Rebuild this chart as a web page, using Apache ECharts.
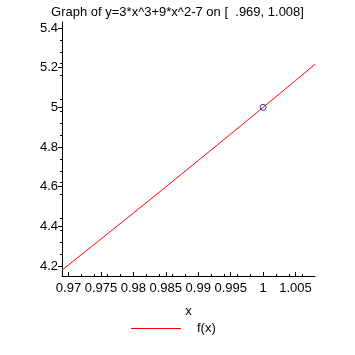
<!DOCTYPE html>
<html>
<head>
<meta charset="utf-8">
<script src="https://cdn.jsdelivr.net/npm/echarts@6/dist/echarts.min.js"></script>
<style>
  html, body { margin: 0; padding: 0; background: #fff; }
  #chart { width: 355px; height: 355px; }
</style>
</head>
<body>
<div id="chart"></div>
<script>
// values
var xs = [0.969, 0.975, 0.98, 0.985, 0.99, 0.995, 1, 1.005, 1.008];
var ys = [4.18, 4.336, 4.467, 4.599, 4.732, 4.865, 5.0, 5.135, 5.217];
var marked = [[1, 5]];
var xTicks = [0.97, 0.975, 0.98, 0.985, 0.99, 0.995, 1, 1.005];
var yTicks = [4.2, 4.4, 4.6, 4.8, 5, 5.2, 5.4];

var font = "'Liberation Sans', Arial, sans-serif";
var chart = echarts.init(document.getElementById("chart"));

var line = xs.map(function (x, i) { return [x, ys[i]]; });

chart.setOption({
  animation: false,
  title: {
    text: "Graph of y=3*x^3+9*x^2-7 on [  .969, 1.008]",
    left: "center",
    top: 1,
    textStyle: { fontFamily: font, fontSize: 13, fontWeight: "normal", color: "#000" }
  },
  grid: { left: 62, right: 40, top: 22, bottom: 79 },
  legend: {
    data: [{ name: "f(x)", icon: "rect" }],
    bottom: 20,
    left: 131,
    padding: 0,
    itemWidth: 50,
    itemHeight: 1,
    textStyle: { fontFamily: font, fontSize: 13, color: "#000", padding: [3, 0, 0, 11] }
  },
  xAxis: {
    type: "value",
    min: 0.969,
    max: 1.008,
    name: "x",
    nameLocation: "middle",
    nameGap: 29,
    nameTextStyle: { fontFamily: font, fontSize: 13, color: "#000" },
    axisLine: { onZero: false, lineStyle: { color: "#000", width: 1 } },
    axisTick: { inside: true, length: 4, customValues: xTicks, lineStyle: { color: "#000" } },
    minorTick: { show: true, splitNumber: 5, length: 2, lineStyle: { color: "#000" } },
    axisLabel: {
      customValues: xTicks,
      margin: 6,
      fontFamily: font, fontSize: 13, color: "#000",
      formatter: function (v) { return String(+v.toFixed(3)); }
    },
    splitLine: { show: false }
  },
  yAxis: {
    type: "value",
    min: 4.15,
    max: 5.43,
    axisLine: { onZero: false, lineStyle: { color: "#000", width: 1 } },
    axisTick: { length: 4, customValues: yTicks, lineStyle: { color: "#000" } },
    minorTick: { show: true, splitNumber: 5, length: 2, lineStyle: { color: "#000" } },
    axisLabel: {
      customValues: yTicks,
      margin: 4,
      fontFamily: font, fontSize: 13, color: "#000",
      formatter: function (v) { return String(+v.toFixed(1)); }
    },
    splitLine: { show: false }
  },
  series: [
    {
      name: "f(x)",
      type: "line",
      data: line,
      symbol: "none",
      lineStyle: { color: "#ff0000", width: 1 },
      itemStyle: { color: "#ff0000" }
    },
    {
      name: "pt",
      type: "scatter",
      data: marked,
      symbol: "circle",
      symbolSize: 6,
      itemStyle: { color: "rgba(0,0,0,0)", borderColor: "#000099", borderWidth: 1 },
      z: 5
    }
  ]
});
</script>
</body>
</html>
